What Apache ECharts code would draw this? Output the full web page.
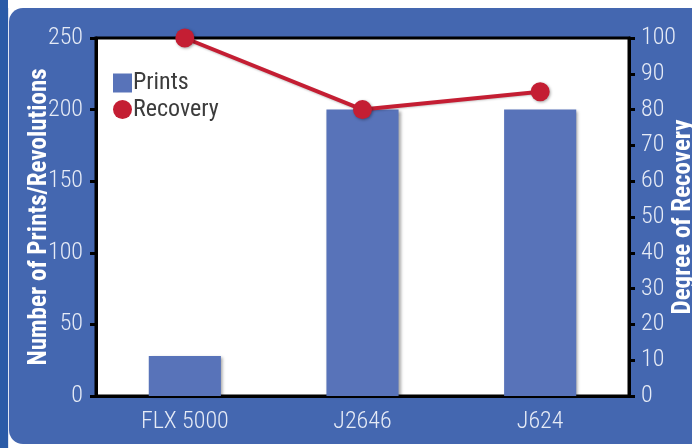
<!DOCTYPE html>
<html>
<head>
<meta charset="utf-8">
<script src="https://cdn.jsdelivr.net/npm/echarts@6/dist/echarts.min.js"></script>
<style>
  html, body { margin: 0; padding: 0; background: #ffffff; }
  #chart { width: 692px; height: 448px; }
</style>
</head>
<body>
<div id="chart"></div>
<script>
// Sample names on the category axis
const categories = ['FLX 5000', 'J2646', 'J624'];
// Number of prints / revolutions per sample (left axis)
const prints = [28, 200, 200];
// Degree of recovery in percent (right axis)
const recovery = [100, 80, 85];
// Tick values for the two value axes
const leftTicks = { min: 0, max: 250, interval: 50 };
const rightTicks = { min: 0, max: 100, interval: 10 };

const FONT = '"Roboto Condensed", "Liberation Sans Narrow", "Liberation Sans", sans-serif';
const PANEL = '#4467b0';
const BAR = '#5873b9';
const RED = '#c41e33';

const chart = echarts.init(document.getElementById('chart'));

const axisLine = { show: true, lineStyle: { color: '#000', width: 3 } };
const axisTick = { show: true, length: 6, lineStyle: { color: '#000', width: 3 } };
const tickLabel = { color: '#e6ebf6', fontFamily: FONT, fontSize: 24, fontWeight: 300 };
const nameStyle = { color: '#ffffff', fontFamily: FONT, fontSize: 25, fontWeight: 'bold' };

chart.setOption({
  animation: false,
  backgroundColor: 'transparent',
  graphic: [
    { type: 'rect', z: -10, silent: true, shape: { x: 0, y: 0, width: 8, height: 448 }, style: { fill: '#2a5ba7' } },
    { type: 'rect', z: -10, silent: true, shape: { x: 8, y: 8, width: 1, height: 440 }, style: { fill: '#dfe6f2' } },
    { type: 'rect', z: -9, silent: true, shape: { x: 9, y: 8, width: 700, height: 436, r: 14 }, style: { fill: PANEL } }
  ],
  grid: {
    left: 96, right: 63, top: 38, bottom: 52,
    outerBoundsMode: 'none',
    show: true, backgroundColor: '#ffffff', borderColor: '#000', borderWidth: 3
  },
  legend: {
    left: 113, top: 71, orient: 'vertical', itemGap: 2.5, padding: 0,
    itemWidth: 19, itemHeight: 19,
    textStyle: { color: '#3c3c3c', fontFamily: FONT, fontSize: 24, padding: [0, 0, 0, -4] },
    data: [
      { name: 'Prints', icon: 'rect' },
      { name: 'Recovery', icon: 'circle' }
    ]
  },
  xAxis: {
    type: 'category',
    data: categories,
    axisLine: axisLine,
    axisTick: { show: false },
    axisLabel: { ...tickLabel, margin: 14 }
  },
  yAxis: [
    {
      type: 'value', ...leftTicks,
      name: 'Number of Prints/Revolutions', nameLocation: 'middle', nameRotate: 90, nameGap: 44,
      nameMoveOverlap: false,
      nameTextStyle: nameStyle,
      axisLine: axisLine, axisTick: axisTick,
      axisLabel: { ...tickLabel, margin: 13 },
      splitLine: { show: false }
    },
    {
      type: 'value', ...rightTicks, position: 'right',
      name: 'Degree of Recovery', nameLocation: 'middle', nameRotate: 90, nameGap: 42,
      nameMoveOverlap: false,
      nameTextStyle: nameStyle,
      axisLine: axisLine, axisTick: axisTick,
      axisLabel: { ...tickLabel, margin: 12 },
      splitLine: { show: false }
    }
  ],
  series: [
    {
      name: 'Prints', type: 'bar', yAxisIndex: 0, data: prints, barWidth: '40.6%',
      itemStyle: { color: BAR, shadowColor: 'rgba(0,0,0,0.35)', shadowBlur: 3, shadowOffsetX: 2, shadowOffsetY: 1 }
    },
    {
      name: 'Recovery', type: 'line', yAxisIndex: 1, data: recovery,
      symbol: 'circle', symbolSize: 19,
      lineStyle: { color: RED, width: 4, shadowColor: 'rgba(0,0,0,0.2)', shadowBlur: 2, shadowOffsetY: 1 },
      itemStyle: { color: RED, shadowColor: 'rgba(0,0,0,0.35)', shadowBlur: 3, shadowOffsetX: 1, shadowOffsetY: 1 },
      z: 5
    }
  ]
});
</script>
</body>
</html>
